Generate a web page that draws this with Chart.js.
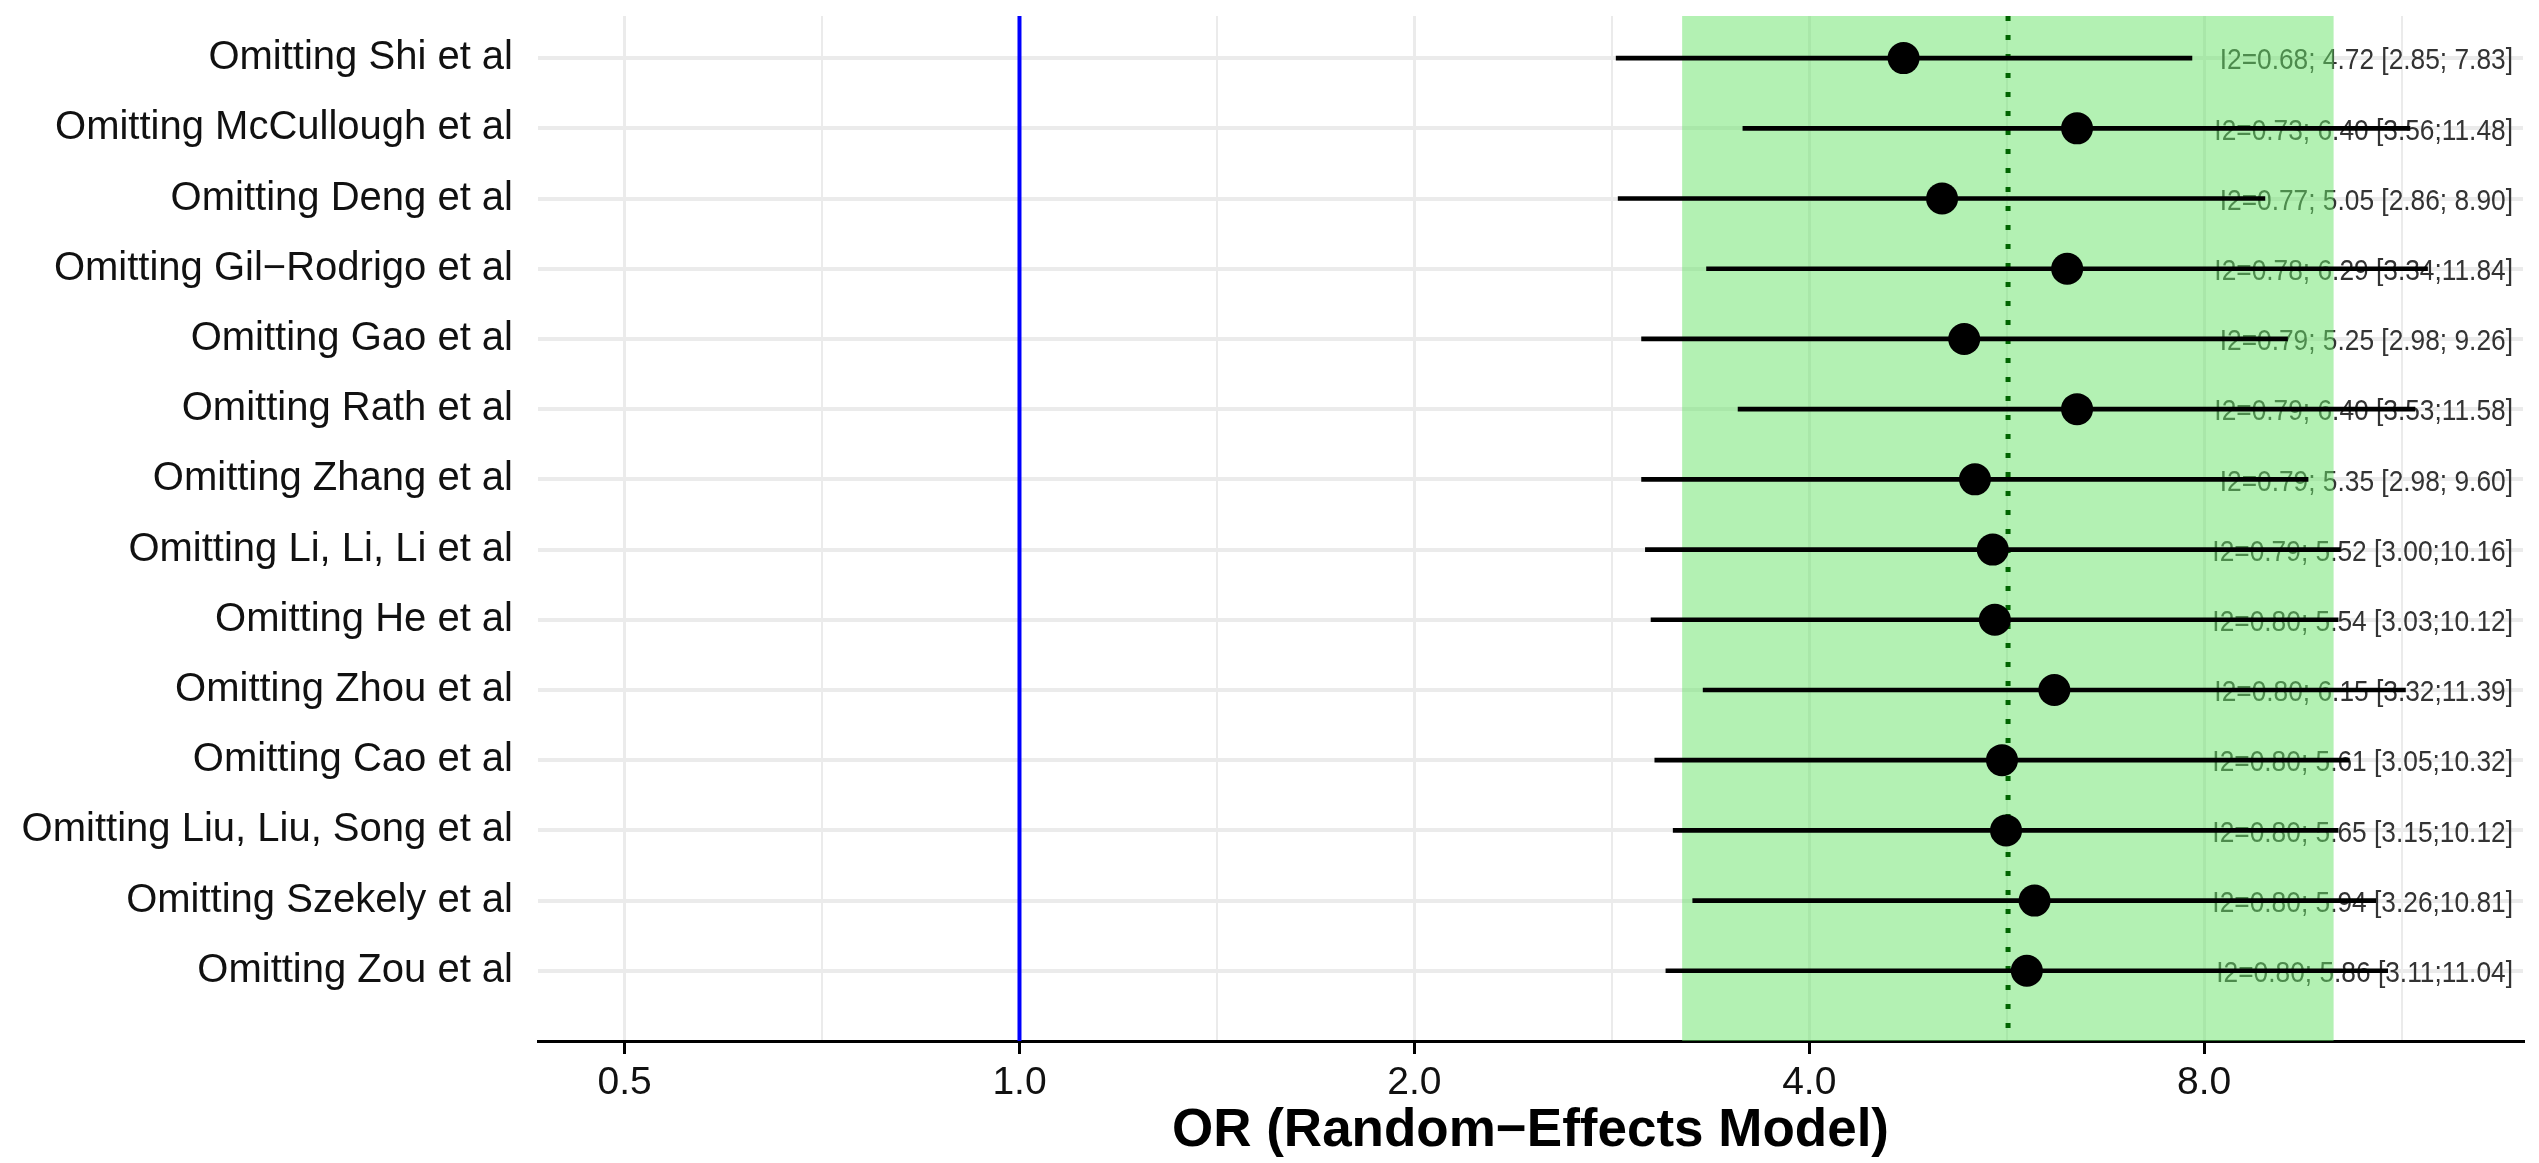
<!DOCTYPE html>
<html>
<head>
<meta charset="utf-8">
<script src="https://cdn.jsdelivr.net/npm/chart.js@4.4.1/dist/chart.umd.min.js"></script>
<style>
    html, body { margin: 0; padding: 0; background: #fff; }
    canvas { display: block; }
</style>
</head>
<body>
<canvas id="forestChart" width="2539" height="1163"></canvas>
<script>
// Leave-one-out sensitivity analysis
const studies = [
    'Omitting Shi et al', 'Omitting McCullough et al', 'Omitting Deng et al',
    'Omitting Gil−Rodrigo et al', 'Omitting Gao et al', 'Omitting Rath et al',
    'Omitting Zhang et al', 'Omitting Li, Li, Li et al', 'Omitting He et al',
    'Omitting Zhou et al', 'Omitting Cao et al', 'Omitting Liu, Liu, Song et al',
    'Omitting Szekely et al', 'Omitting Zou et al'
];
const i2Values = [0.68, 0.73, 0.77, 0.78, 0.79, 0.79, 0.79, 0.79, 0.80, 0.80, 0.80, 0.80, 0.80, 0.80];
const orValues = [4.72, 6.40, 5.05, 6.29, 5.25, 6.40, 5.35, 5.52, 5.54, 6.15, 5.61, 5.65, 5.94, 5.86];
const ciLow = [2.85, 3.56, 2.86, 3.34, 2.98, 3.53, 2.98, 3.00, 3.03, 3.32, 3.05, 3.15, 3.26, 3.11];
const ciHigh = [7.83, 11.48, 8.90, 11.84, 9.26, 11.58, 9.60, 10.16, 10.12, 11.39, 10.32, 10.12, 10.81, 11.04];

// pooled random-effects estimate (dotted line + shaded band)
const pooledOR = 5.67;
const pooledLow = 3.20;
const pooledHigh = 10.04;

const majorTicks = [0.5, 1, 2, 4, 8];
const minorTicks = [0.707, 1.414, 2.828, 5.657, 11.314];

const FONT = '"Liberation Sans", Arial, Helvetica, sans-serif';

function studyLabel(i) {
    return 'I2=' + i2Values[i].toFixed(2) + '; ' + orValues[i].toFixed(2) +
        ' [' + ciLow[i].toFixed(2) + ';' + ciHigh[i].toFixed(2).padStart(5) + ']';
}

// text, pooled band and reference lines go under the whiskers
const forestDecor = {
    id: 'forestDecor',
    beforeDatasetsDraw(chart) {
        const { ctx, chartArea: a, scales: { x, y } } = chart;
        ctx.save();

        ctx.font = '30px ' + FONT;
        ctx.fillStyle = '#333';
        ctx.textAlign = 'right';
        ctx.textBaseline = 'middle';
        studies.forEach((s, i) => {
            ctx.save();
            ctx.translate(a.right - 10, y.getPixelForValue(i + 1) + 3);
            ctx.scale(0.877, 1);
            ctx.fillText(studyLabel(i), 0, 0);
            ctx.restore();
        });

        const x0 = x.getPixelForValue(pooledLow);
        const x1 = x.getPixelForValue(pooledHigh);
        ctx.fillStyle = 'rgba(103, 227, 103, 0.5)';
        ctx.fillRect(x0, a.top, x1 - x0, a.bottom - a.top);

        // line of no effect
        const xn = x.getPixelForValue(1);
        ctx.strokeStyle = '#0000ff';
        ctx.lineWidth = 4;
        ctx.beginPath();
        ctx.moveTo(xn, a.top);
        ctx.lineTo(xn, a.bottom);
        ctx.stroke();

        // pooled OR
        const xp = x.getPixelForValue(pooledOR);
        ctx.strokeStyle = '#006400';
        ctx.lineWidth = 5;
        ctx.setLineDash([5, 14]);
        ctx.beginPath();
        ctx.moveTo(xp, a.top);
        ctx.lineTo(xp, a.bottom);
        ctx.stroke();

        ctx.restore();
    }
};

const isMajor = ctx => ctx.tick && majorTicks.includes(ctx.tick.value);

new Chart(document.getElementById('forestChart'), {
    type: 'bar',
    data: {
        datasets: [
            {
                type: 'bar',
                label: '95% CI',
                data: studies.map((s, i) => ({ y: i + 1, x: [ciLow[i], ciHigh[i]] })),
                backgroundColor: '#000',
                borderWidth: 0,
                barThickness: 4
            },
            {
                type: 'scatter',
                label: 'OR',
                data: studies.map((s, i) => ({ x: orValues[i], y: i + 1 })),
                backgroundColor: '#000',
                borderWidth: 0,
                pointRadius: 16
            }
        ]
    },
    options: {
        responsive: false,
        animation: false,
        devicePixelRatio: 1,
        indexAxis: 'y',
        events: [],
        layout: { padding: { top: 13, right: 5, left: 0, bottom: 0 } },
        plugins: { legend: { display: false }, tooltip: { enabled: false } },
        scales: {
            x: {
                type: 'logarithmic',
                min: 0.4295,
                max: 14.0,
                afterBuildTicks: s => {
                    s.ticks = majorTicks.concat(minorTicks).sort((p, q) => p - q).map(v => ({ value: v }));
                },
                afterFit: s => {
                    s.height = 122;
                    s.paddingLeft = 0;
                    s.paddingRight = 0;
                },
                ticks: {
                    autoSkip: false,
                    maxRotation: 0,
                    padding: 6,
                    color: '#111',
                    font: { family: FONT, size: 39 },
                    callback: v => majorTicks.includes(v) ? v.toFixed(1) : ''
                },
                grid: {
                    color: '#ebebeb',
                    lineWidth: ctx => isMajor(ctx) ? 3 : 2,
                    tickColor: ctx => isMajor(ctx) ? '#000' : 'rgba(0,0,0,0)',
                    tickLength: 13,
                    tickWidth: 3
                },
                border: { color: '#000', width: 3 },
                title: {
                    display: true,
                    text: 'OR (Random−Effects Model)',
                    color: '#000',
                    font: { family: FONT, size: 53, weight: 'bold' },
                    padding: { top: 0, bottom: 0 }
                }
            },
            y: {
                type: 'linear',
                reverse: true,
                offset: false,
                min: 0.4,
                max: 15.0,
                afterBuildTicks: s => { s.ticks = studies.map((n, i) => ({ value: i + 1 })); },
                afterFit: s => {
                    s.width = 538;
                    s.paddingTop = 0;
                    s.paddingBottom = 0;
                },
                ticks: {
                    autoSkip: false,
                    padding: 25,
                    color: '#111',
                    font: { family: FONT, size: 40 },
                    callback: v => studies[v - 1] ?? ''
                },
                grid: { color: '#ebebeb', lineWidth: 4, drawTicks: false, offset: false },
                border: { display: false }
            }
        }
    },
    plugins: [forestDecor]
});
</script>
</body>
</html>
